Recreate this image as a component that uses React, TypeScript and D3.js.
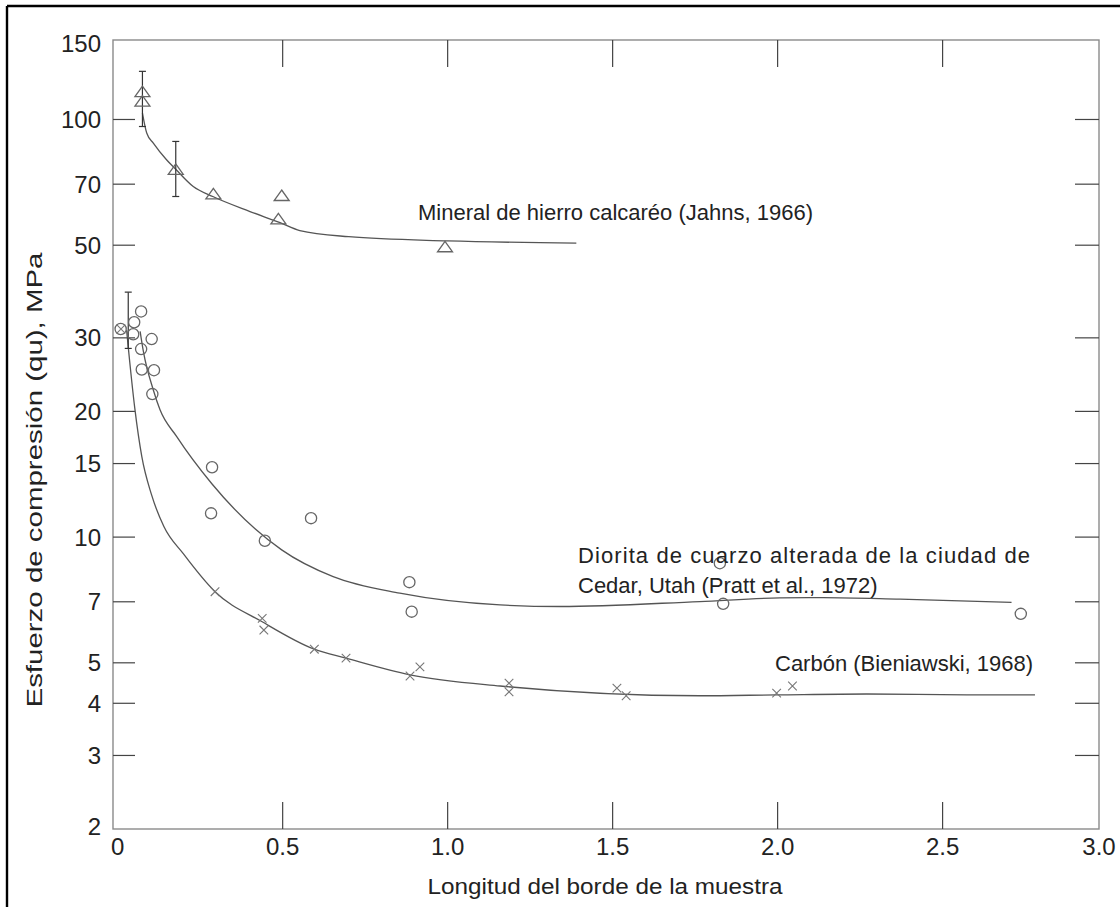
import React from "react";
import * as d3 from "d3";

// Axis ticks
const yTicks = [2, 3, 4, 5, 7, 10, 15, 20, 30, 50, 70, 100, 150];
const xTicks = [0, 0.5, 1.0, 1.5, 2.0, 2.5, 3.0];

// Mineral de hierro calcaréo (Jahns, 1966) – triangles
const ironX = [0.075, 0.075, 0.176, 0.29, 0.487, 0.497, 0.992];
const ironY = [116, 110, 75.5, 66, 57.5, 65.4, 49.3];
// fitted trend for the iron ore
const ironFitX = [0.075, 0.088, 0.108, 0.148, 0.176, 0.229, 0.29, 0.401, 0.492, 0.552, 0.7, 1.0, 1.39];
const ironFitY = [103.6, 92.8, 87.8, 80.1, 76.0, 69.1, 65.3, 60.2, 56.6, 54.2, 52.4, 51.2, 50.6];

// Diorita de cuarzo alterada – circles
const dioX = [0.009, 0.047, 0.05, 0.071, 0.071, 0.103, 0.073, 0.11, 0.105, 0.286, 0.283, 0.586, 0.446, 0.884, 0.891, 1.825, 1.835, 2.737];
const dioY = [31.5, 30.6, 32.7, 34.7, 28.2, 29.8, 25.2, 25.1, 22.0, 14.7, 11.4, 11.1, 9.8, 7.8, 6.63, 8.66, 6.92, 6.55];
const dioFitX = [0.068, 0.078, 0.108, 0.128, 0.179, 0.286, 0.497, 0.653, 0.855, 1.159, 1.341, 1.764, 2.007, 2.138, 2.371, 2.709];
const dioFitY = [31.1, 27.8, 22.5, 20.2, 17.4, 13.4, 9.32, 8.04, 7.34, 6.88, 6.82, 7.01, 7.15, 7.16, 7.1, 6.98];

// Carbón (Bieniawski, 1968) – crosses
const coalX = [0.01, 0.295, 0.438, 0.443, 0.596, 0.692, 0.886, 0.916, 1.186, 1.186, 1.513, 1.541, 1.997, 2.045];
const coalY = [31.5, 7.4, 6.39, 5.99, 5.39, 5.13, 4.65, 4.89, 4.47, 4.26, 4.35, 4.17, 4.23, 4.4];
const coalFitX = [0.027, 0.035, 0.052, 0.073, 0.103, 0.14, 0.2, 0.295, 0.438, 0.596, 0.692, 0.886, 1.159, 1.764, 1.997, 2.27, 2.573, 2.78];
const coalFitY = [31.3, 27.0, 20.3, 15.6, 12.6, 10.6, 9.1, 7.4, 6.27, 5.39, 5.13, 4.68, 4.4, 4.17, 4.19, 4.21, 4.19, 4.19];

// Error bars: x, low, high
const errX = [0.075, 0.176, 0.032];
const errLo = [96.2, 65.4, 28.3];
const errHi = [130.4, 88.6, 38.6];

const W = 1120;
const H = 907;
const L = 113, R = 1099, T = 40, B = 829;

export default function App() {
  const x = d3.scaleLinear().domain([-0.0142, 2.974]).range([L, R]);
  const y = d3.scaleLog().domain([2, 155]).range([B, T]);

  const line = d3
    .line<[number, number]>()
    .x((d) => x(d[0]))
    .y((d) => y(d[1]))
    .curve(d3.curveMonotoneX);

  const pts = (xs: number[], ys: number[]) => xs.map((v, i) => [v, ys[i]] as [number, number]);

  const font = "'Liberation Sans', Arial, sans-serif";
  const frame = "#8a8a8a";
  const tickCol = "#444";
  const textCol = "#222";
  const markCol = "#666";

  const xPos = (v: number) => Math.min(R, Math.max(L, x(v)));

  return (
    <svg width={W} height={H} style={{ position: "absolute", left: 0, top: 0, background: "#fff" }} fontFamily={font}>
      <rect x={0} y={0} width={W} height={H} fill="#fff" />
      {/* outer border */}
      <line x1={7} y1={6} x2={W} y2={6} stroke="#000" strokeWidth={2.4} />
      <line x1={7} y1={6} x2={7} y2={H} stroke="#000" strokeWidth={2.4} />

      {/* plot frame */}
      <rect x={L} y={T} width={R - L} height={B - T} fill="none" stroke={frame} strokeWidth={1.4} />

      {/* y ticks */}
      {yTicks.filter((t) => t !== 2 && t !== 150).map((t) => (
        <g key={"yt" + t}>
          <line x1={L} x2={L + 22} y1={y(t)} y2={y(t)} stroke={tickCol} strokeWidth={1.2} />
          <line x1={R - 24} x2={R} y1={y(t)} y2={y(t)} stroke={tickCol} strokeWidth={1.2} />
        </g>
      ))}
      {yTicks.map((t) => (
        <text
          key={"yl" + t}
          x={101}
          y={t === 150 ? 43 : t === 2 ? 826 : y(t)}
          textAnchor="end"
          dominantBaseline="central"
          fontSize={24}
          fill={textCol}
        >
          {t}
        </text>
      ))}

      {/* x ticks */}
      {xTicks.filter((t) => t > 0 && t < 3).map((t) => (
        <g key={"xt" + t}>
          <line x1={x(t)} x2={x(t)} y1={B} y2={B - 27} stroke={tickCol} strokeWidth={1.2} />
          <line x1={x(t)} x2={x(t)} y1={T} y2={T + 27} stroke={tickCol} strokeWidth={1.2} />
        </g>
      ))}
      {xTicks.map((t) => (
        <text key={"xl" + t} x={xPos(t)} y={855} textAnchor="middle" fontSize={24} fill={textCol}>
          {t === 0 ? "0" : t.toFixed(1)}
        </text>
      ))}

      {/* axis titles */}
      <text x={605} y={894} textAnchor="middle" fontSize={22} fill={textCol} textLength={355} lengthAdjust="spacingAndGlyphs">
        Longitud del borde de la muestra
      </text>
      <text
        transform={`translate(42,480) rotate(-90)`}
        textAnchor="middle"
        fontSize={22}
        fill={textCol}
        textLength={455}
        lengthAdjust="spacingAndGlyphs"
      >
        Esfuerzo de compresión (qu), MPa
      </text>

      {/* fitted curves */}
      <path d={line(pts(ironFitX, ironFitY)) || ""} fill="none" stroke="#555" strokeWidth={1.3} />
      <path d={line(pts(dioFitX, dioFitY)) || ""} fill="none" stroke="#555" strokeWidth={1.3} />
      <path d={line(pts(coalFitX, coalFitY)) || ""} fill="none" stroke="#555" strokeWidth={1.3} />

      {/* error bars */}
      {errX.map((ex, i) => (
        <g key={"eb" + i} stroke="#333" strokeWidth={1.2}>
          <line x1={x(ex)} x2={x(ex)} y1={y(errLo[i])} y2={y(errHi[i])} />
          <line x1={x(ex) - 3.5} x2={x(ex) + 3.5} y1={y(errLo[i])} y2={y(errLo[i])} />
          <line x1={x(ex) - 3.5} x2={x(ex) + 3.5} y1={y(errHi[i])} y2={y(errHi[i])} />
        </g>
      ))}

      {/* triangles */}
      {ironX.map((v, i) => {
        const cx = x(v), cy = y(ironY[i]);
        return (
          <path
            key={"tr" + i}
            d={`M${cx},${cy - 6.5} L${cx + 7.5},${cy + 4} L${cx - 7.5},${cy + 4} Z`}
            fill="none"
            stroke={markCol}
            strokeWidth={1.3}
          />
        );
      })}

      {/* circles */}
      {dioX.map((v, i) => (
        <circle key={"ci" + i} cx={x(v)} cy={y(dioY[i])} r={5.6} fill="none" stroke={markCol} strokeWidth={1.3} />
      ))}

      {/* crosses */}
      {coalX.map((v, i) => {
        const cx = x(v), cy = y(coalY[i]);
        const s = 4.3;
        return (
          <path
            key={"cr" + i}
            d={`M${cx - s},${cy - s} L${cx + s},${cy + s} M${cx - s},${cy + s} L${cx + s},${cy - s}`}
            stroke="#777"
            strokeWidth={1.1}
          />
        );
      })}

      {/* annotations */}
      <text x={418} y={212} dominantBaseline="central" fontSize={22} fill={textCol}>
        Mineral de hierro calcaréo (Jahns, 1966)
      </text>
      <text x={578} y={555} dominantBaseline="central" fontSize={22} fill={textCol} textLength={452} lengthAdjust="spacing">
        Diorita de cuarzo alterada de la ciudad de
      </text>
      <text x={578} y={585} dominantBaseline="central" fontSize={22} fill={textCol}>
        Cedar, Utah (Pratt et al., 1972)
      </text>
      <text x={775} y={663} dominantBaseline="central" fontSize={22} fill={textCol}>
        Carbón (Bieniawski, 1968)
      </text>
    </svg>
  );
}
